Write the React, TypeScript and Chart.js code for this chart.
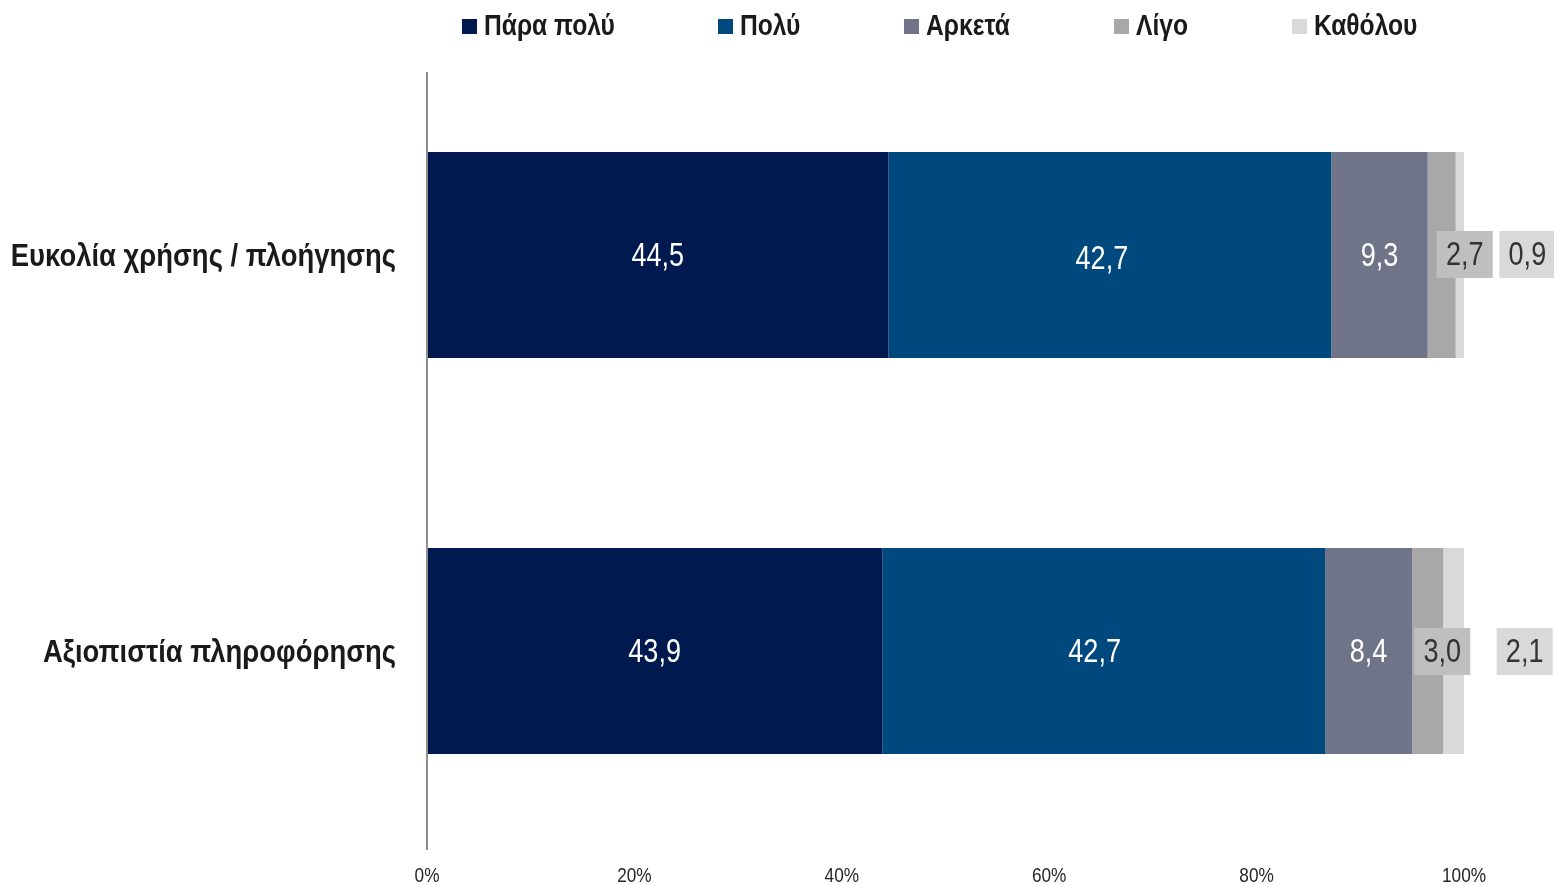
import React, { useEffect, useRef } from "react";
import { Chart, registerables } from "chart.js";

Chart.register(...registerables);

const categories = ["Ευκολία χρήσης / πλοήγησης", "Αξιοπιστία πληροφόρησης"];
const seriesNames = ["Πάρα πολύ", "Πολύ", "Αρκετά", "Λίγο", "Καθόλου"];
const veryMuch = [44.5, 43.9];
const much = [42.7, 42.7];
const enough = [9.3, 8.4];
const little = [2.7, 3.0];
const notAtAll = [0.9, 2.1];
const xTicks = [0, 20, 40, 60, 80, 100];

const seriesValues = [veryMuch, much, enough, little, notAtAll];
const colors = ["#00194f", "#00497e", "#707488", "#a8a8a8", "#d9d9d9"];
const labelColors = ["#ffffff", "#ffffff", "#ffffff", "#333333", "#333333"];
const labelBoxes = [null, null, null, "#bfbfbf", "#d9d9d9"];
// pixel offsets [dx, dy] of the manually moved data labels (per series, per category)
const labelOffsets = [
  [[0, 1], [0, 1]],
  [[-8, 4], [-9, 1]],
  [[0, 1], [0, 1]],
  [[23, 0], [14.5, 1]],
  [[67, 0], [70.5, 1]],
];
const legendLeft = [462, 718, 904, 1114, 1292];

const FONT = '"Liberation Sans", Arial, sans-serif';

function narrowText(
  ctx: CanvasRenderingContext2D,
  txt: string,
  x: number,
  y: number,
  align: CanvasTextAlign,
  squeeze = 0.82
) {
  ctx.save();
  ctx.translate(x, y);
  ctx.scale(squeeze, 1);
  ctx.textAlign = align;
  ctx.fillText(txt, 0, 0);
  ctx.restore();
}

const labelPlugin = {
  id: "valueLabels",
  afterDatasetsDraw(chart: any) {
    const ctx = chart.ctx;
    ctx.save();
    ctx.font = `33px ${FONT}`;
    ctx.textBaseline = "middle";
    chart.data.datasets.forEach((ds: any, di: number) => {
      const meta = chart.getDatasetMeta(di);
      meta.data.forEach((bar: any, i: number) => {
        const v = ds.data[i];
        const txt = v.toFixed(1).replace(".", ",");
        const cx = (bar.x + bar.base) / 2 + labelOffsets[di][i][0];
        const cy = bar.y + labelOffsets[di][i][1];
        if (labelBoxes[di]) {
          ctx.fillStyle = labelBoxes[di];
          ctx.fillRect(cx - 28, cy - 24, 56, 47);
        }
        ctx.fillStyle = labelColors[di];
        narrowText(ctx, txt, cx, cy + 1, "center");
      });
    });
    ctx.restore();
  },
};

const axesPlugin = {
  id: "axesText",
  afterDatasetsDraw(chart: any) {
    const { ctx, chartArea } = chart;
    const xs = chart.scales.x;
    const ys = chart.scales.y;
    ctx.save();
    // y axis line
    ctx.strokeStyle = "#8f8f8f";
    ctx.lineWidth = 2;
    ctx.beginPath();
    ctx.moveTo(chartArea.left, chartArea.top + 15);
    ctx.lineTo(chartArea.left, chartArea.bottom + 1);
    ctx.stroke();
    // category labels
    ctx.textBaseline = "middle";
    ctx.fillStyle = "#1a1a1a";
    ctx.font = `bold 31px ${FONT}`;
    categories.forEach((c, i) => {
      narrowText(ctx, c, chartArea.left - 31, ys.getPixelForValue(i) + 2, "right", 0.885);
    });
    // x tick labels
    ctx.fillStyle = "#262626";
    ctx.font = `21px ${FONT}`;
    xTicks.forEach((t) => {
      narrowText(ctx, t + "%", xs.getPixelForValue(t), chartArea.bottom + 27, "center");
    });
    // legend
    ctx.font = `bold 30px ${FONT}`;
    seriesNames.forEach((n, i) => {
      ctx.fillStyle = colors[i];
      ctx.fillRect(legendLeft[i], 19, 15, 15);
      ctx.fillStyle = "#1a1a1a";
      narrowText(ctx, n, legendLeft[i] + 22, 27, "left");
    });
    ctx.restore();
  },
};

export default function App() {
  const ref = useRef<HTMLCanvasElement>(null);
  useEffect(() => {
    document.body.style.margin = "0";
    const chart = new Chart(ref.current!, {
      type: "bar",
      data: {
        labels: categories,
        datasets: seriesNames.map((name, i) => ({
          label: name,
          data: seriesValues[i],
          backgroundColor: colors[i],
          borderWidth: 0,
          barPercentage: 1,
          categoryPercentage: 0.52,
        })),
      },
      options: {
        indexAxis: "y",
        animation: false,
        responsive: false,
        layout: { padding: { top: 57, right: 90, left: 0, bottom: 0 } },
        plugins: { legend: { display: false }, tooltip: { enabled: false } },
        scales: {
          x: {
            stacked: true,
            min: 0,
            max: 100,
            afterBuildTicks: (scale: any) => {
              scale.ticks = xTicks.map((v) => ({ value: v }));
            },
            afterFit: (scale: any) => {
              scale.height = 36;
              scale.paddingLeft = 0;
              scale.paddingRight = 0;
            },
            grid: { display: false },
            border: { display: false },
            ticks: { display: false },
          },
          y: {
            stacked: true,
            afterFit: (scale: any) => {
              scale.width = 427;
              scale.paddingTop = 0;
              scale.paddingBottom = 0;
            },
            grid: { display: false },
            border: { display: false },
            ticks: { display: false },
          },
        },
      },
      plugins: [labelPlugin, axesPlugin],
    } as any);
    return () => chart.destroy();
  }, []);

  return (
    <div style={{ width: 1554, height: 885, background: "#fff" }}>
      <canvas ref={ref} width={1554} height={885} style={{ display: "block" }} />
    </div>
  );
}
